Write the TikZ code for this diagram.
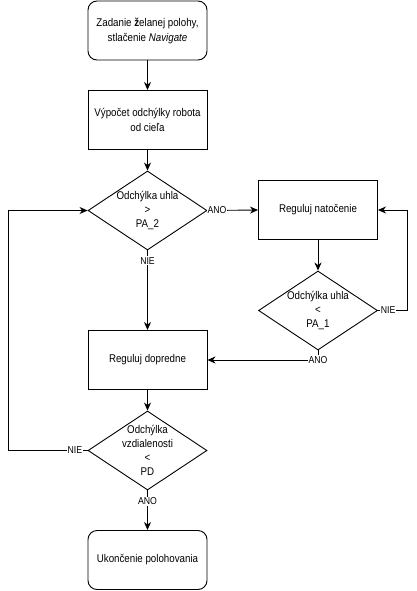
\documentclass[tikz,border=0pt]{standalone}
\usepackage{fontspec}
\setmainfont{Liberation Sans}[FakeStretch=0.87]
\usetikzlibrary{arrows.meta,shapes.geometric}

\begin{document}
\begin{tikzpicture}[x=1pt,y=-1pt,>={Stealth[length=8pt,width=7pt,inset=2.5pt]},line width=.9pt,
    box/.style={draw,minimum width=119pt,minimum height=59pt,inner sep=0pt,align=center,font=\fontsize{11.2}{15}\selectfont},
    term/.style={box,rounded corners=9pt},
    decision/.style={draw,diamond,minimum width=119pt,minimum height=79pt,inner sep=0pt,aspect=1.5},
    dtext/.style={align=center,inner sep=0pt,font=\fontsize{11.2}{14}\selectfont},
    lbl/.style={fill=white,inner sep=1pt,font=\fontsize{10}{11}\selectfont}]
    \useasboundingbox (0,0) rectangle (416,591);
    % hlavna vetva
    \node[term] (start) at (147.5,30.5) {Zadanie \textbf{ž}elanej polohy,\\stlačenie \textit{Navigate}};
    \node[box] (odch) at (147.5,120) {Výpočet odchýlky robota\\od cieľa};
    \node[decision] (uhol2) at (147.5,210.5) {};
    \node[dtext] (uhol2t) at (147.5,210) {Odchýlka uhla\\>\\PA\_2};
    \node[box] (natoc) at (318,210) {Reguluj natočenie};
    \node[decision] (uhol1) at (318,310.5) {};
    \node[dtext] (uhol1t) at (318,310) {Odchýlka uhla\\<\\PA\_1};
    \node[box] (dopr) at (147.5,360) {Reguluj dopredne};
    \node[decision] (vzdial) at (147.5,450.5) {};
    \node[dtext] (vzdialt) at (147.5,450) {Odchýlka\\vzdialenosti\\<\\PD};
    \node[term] (koniec) at (147.5,560) {Ukončenie polohovania};
    % rohy slucky
    \coordinate (pravy) at (407,310.5);
    \coordinate (lavy) at (8,450.5);
    % spojenia
    \draw[->] (start) -- (odch);
    \draw[->] (odch) -- (uhol2);
    \draw[->] (uhol2.east) -- node[lbl,pos=.19]{ANO} (natoc.west);
    \draw[->] (natoc) -- (uhol1);
    \draw[->] (uhol1.east) -- node[lbl,pos=.35]{NIE} (pravy) |- (natoc.east);
    \draw[->] (uhol1.south) |- node[lbl,pos=.5]{ANO} (dopr.east);
    \draw[->] (uhol2.south) -- node[lbl,pos=.13]{NIE} (dopr.north);
    \draw[->] (dopr) -- (vzdial);
    \draw[->] (vzdial.west) -- node[lbl,pos=.16]{NIE} (lavy) |- (uhol2.west);
    \draw[->] (vzdial.south) -- node[lbl,pos=.27]{ANO} (koniec.north);
\end{tikzpicture}
\end{document}
